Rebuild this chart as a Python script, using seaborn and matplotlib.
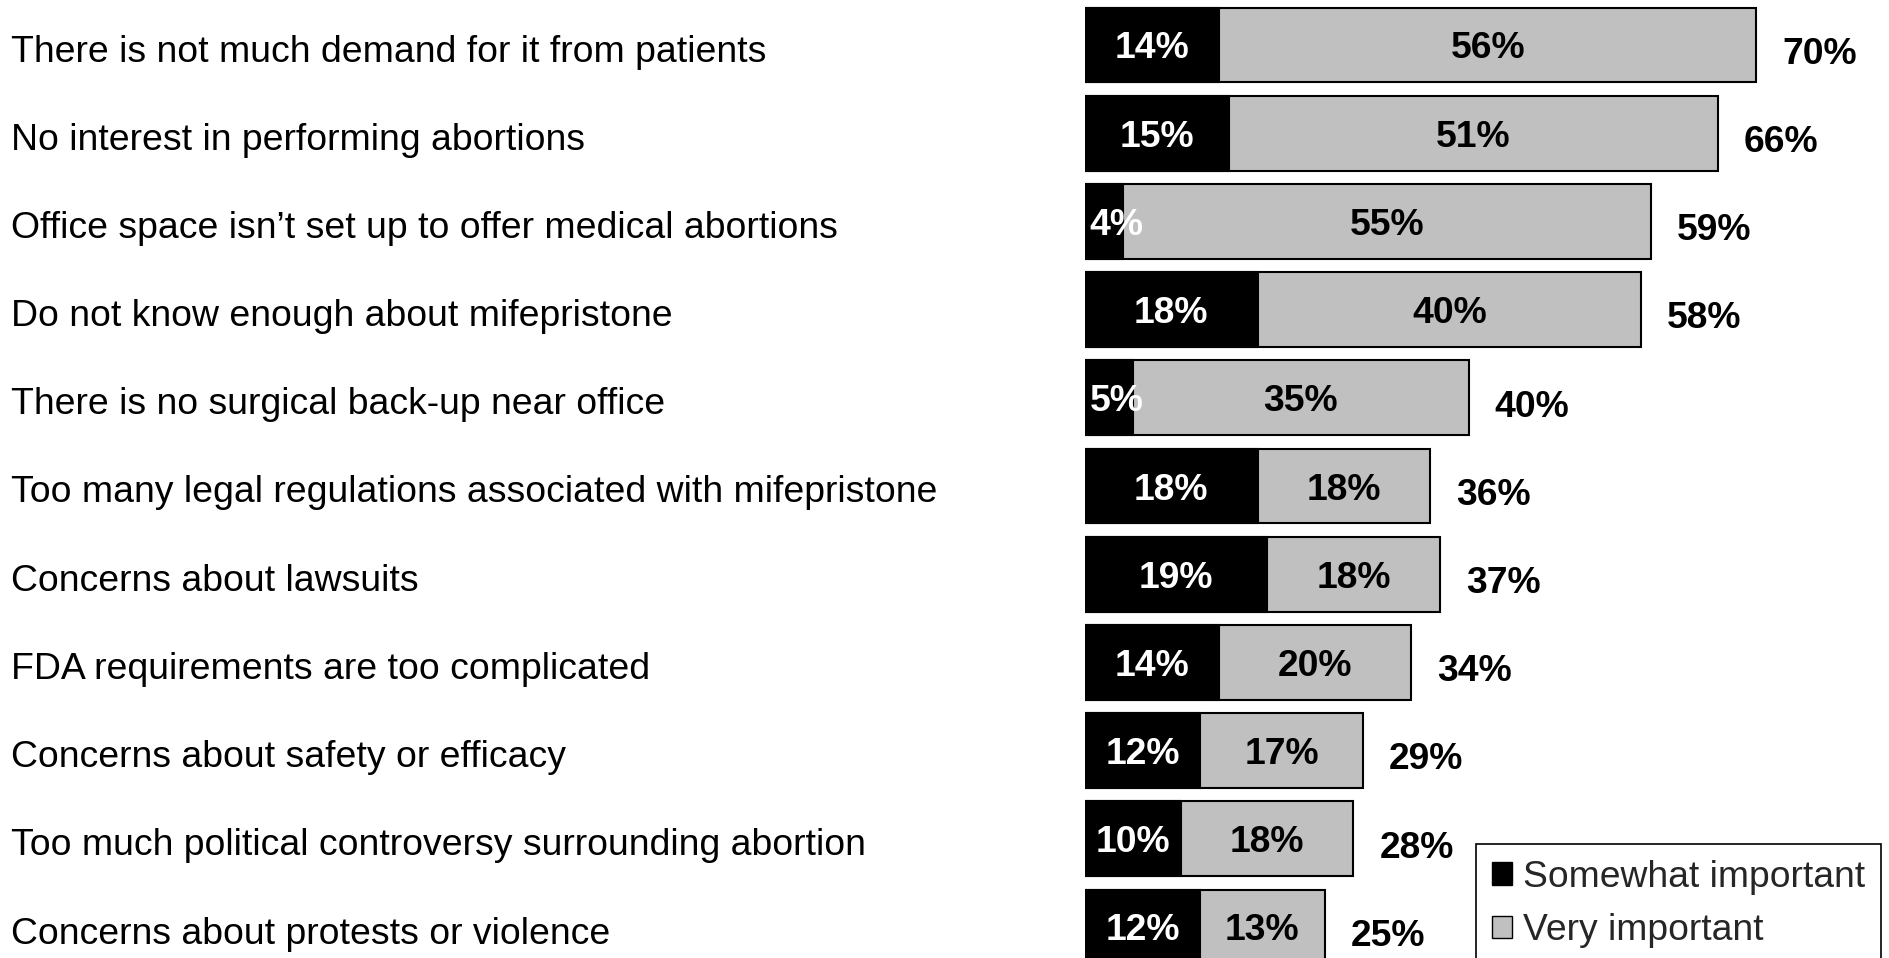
import matplotlib
matplotlib.use("Agg")
import matplotlib.pyplot as plt
import matplotlib.patches as mpatches
import matplotlib.transforms as mtrans
import seaborn as sns
import pandas as pd

categories = [
    "There is not much demand for it from patients",
    "No interest in performing abortions",
    "Office space isn\u2019t set up to offer medical abortions",
    "Do not know enough about mifepristone",
    "There is no surgical back-up near office",
    "Too many legal regulations associated with mifepristone",
    "Concerns about lawsuits",
    "FDA requirements are too complicated",
    "Concerns about safety or efficacy",
    "Too much political controversy surrounding abortion",
    "Concerns about protests or violence",
]
somewhat = [14, 15, 4, 18, 5, 18, 19, 14, 12, 10, 12]
very = [56, 51, 55, 40, 35, 18, 18, 20, 17, 18, 13]
totals = [70, 66, 59, 58, 40, 36, 37, 34, 29, 28, 25]
series_names = ["Somewhat important", "Very important"]

df = pd.DataFrame({"cat": categories, "somewhat": somewhat, "very": very, "total": totals})
df["stack"] = df["somewhat"] + df["very"]

sns.set_theme(style="white")
plt.rcParams["font.family"] = ["Liberation Sans", "DejaVu Sans"]

W, H = 1890, 958
fig = plt.figure(figsize=(W / 100, H / 100), dpi=100)
ax_left = 1085 / W
ax = fig.add_axes([ax_left, 0, 1 - ax_left, 1])

GREY = "#C0C0C0"
sns.barplot(data=df, y="cat", x="stack", orient="h", color=GREY, edgecolor="black",
            linewidth=1.5, width=0.85, ax=ax, saturation=1)
sns.barplot(data=df, y="cat", x="somewhat", orient="h", color="black", edgecolor="black",
            linewidth=1.5, width=0.85, ax=ax, saturation=1)

ax.set_xlim(0, 83.95)
pitch = 88.2
top_px = 45
ax.set_ylim((H - top_px) / pitch, -top_px / pitch)

FS = 26.8
for i, (s, v, t) in enumerate(zip(somewhat, very, totals)):
    if s < 8:
        ax.text(0.5, i, f"{s}%", ha="left", va="center_baseline", color="white",
                fontsize=FS, fontweight="bold")
    else:
        ax.text(s / 2, i, f"{s}%", ha="center", va="center_baseline", color="white",
                fontsize=FS, fontweight="bold")
    ax.text(s + v / 2, i, f"{v}%", ha="center", va="center_baseline", color="black",
            fontsize=FS, fontweight="bold")
    ax.text(s + v + 2.7, i + 0.06, f"{t}%", ha="left", va="center_baseline", color="black",
            fontsize=FS, fontweight="bold")

ax.set_xlabel("")
ax.set_ylabel("")
ax.set_xticks([])
for sp in ax.spines.values():
    sp.set_visible(False)
pad_pt = (1085 - 19) * 0.72
ax.tick_params(axis="y", left=False, pad=pad_pt, labelsize=26.9, labelcolor="black")
for lab in ax.get_yticklabels():
    lab.set_horizontalalignment("left")
    lab.set_verticalalignment("center_baseline")
    lab.set_transform(lab.get_transform() + mtrans.ScaledTranslation(0, -3 / 100, fig.dpi_scale_trans))

handles = [mpatches.Patch(facecolor="black", edgecolor="black", linewidth=1),
           mpatches.Patch(facecolor=GREY, edgecolor="black", linewidth=1)]
leg = fig.legend(handles, series_names, loc="upper left",
                 bbox_to_anchor=(1476 / W, 1 - 844 / H), bbox_transform=fig.transFigure,
                 fontsize=FS, frameon=True, fancybox=False, framealpha=1,
                 edgecolor="black", handlelength=0.55, handleheight=0.55,
                 handletextpad=0.3, borderpad=0.42, labelspacing=0.5, borderaxespad=0)
leg.get_frame().set_linewidth(1.2)

fig.savefig("out.png", dpi=100)
